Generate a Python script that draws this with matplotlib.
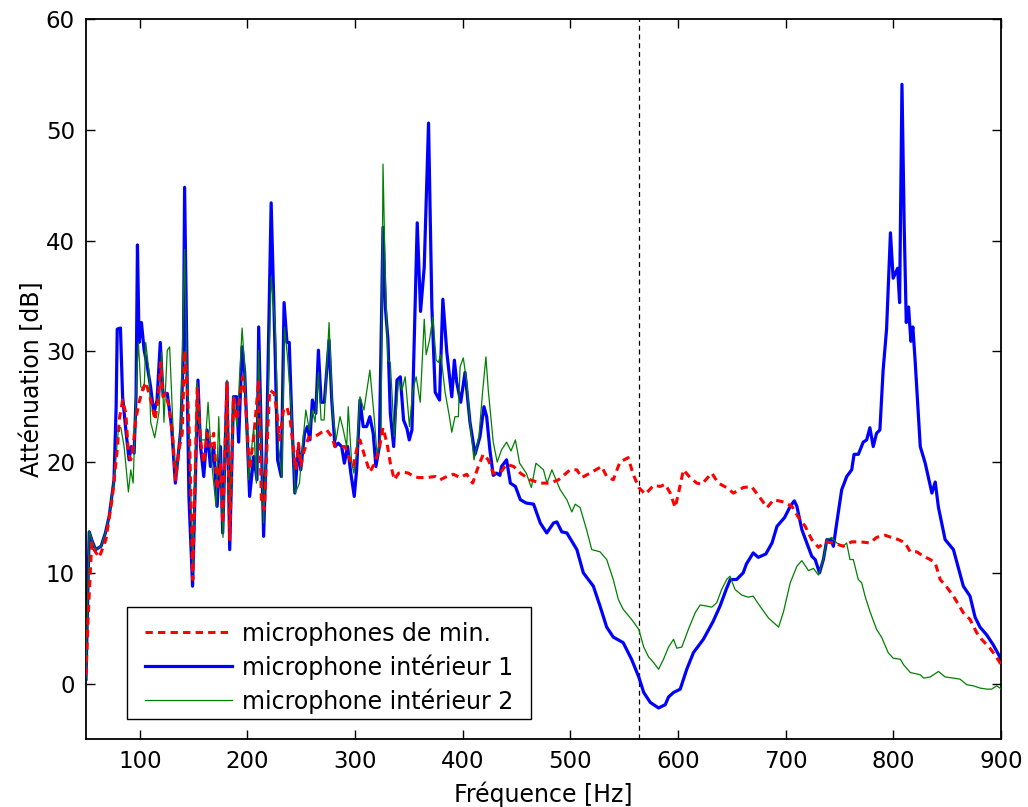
import numpy as np
import matplotlib
matplotlib.use('Agg')
import matplotlib.pyplot as plt
from matplotlib.patches import Rectangle

# microphones de min. (red dashed)
f_min = [50, 52, 55.3, 58, 62.3, 68.5, 74.6, 79.3, 80.8, 84, 87, 89.4, 91.6, 93.8, 96.2, 99.3,
         102.4, 105.5, 108.6, 111.6, 114.1, 117.2, 119.4, 121.5, 124, 127, 130.2, 133.3, 136.3,
         139.4, 141.6, 144, 146.2, 149.2, 153.3, 156.4, 159.4, 162.5, 165.6, 168.6, 171.8, 174.9,
         177, 181, 183.5, 187, 190, 195.5, 198, 202, 205.8, 210.4, 212.9, 215.7, 218.1, 220.6,
         224.9, 227.4, 229.8, 233.5, 236.6, 239.7, 242.8, 244.9, 247.4, 249.6, 252, 256.7, 262.8,
         269, 273.6, 278.3, 281.3, 286, 290.6, 295.2, 298.3, 302, 304.5, 309, 313.7, 318.3, 322.8,
         325.9, 329.6, 332.7, 336.4, 340.4, 345, 349.6, 354.3, 358.9, 366.6, 374.4, 379, 385.2,
         391.3, 397.5, 403.7, 409.2, 414.4, 419, 423.7, 428.3, 434.5, 440.7, 447.3, 453.5, 462.7,
         472, 481.2, 488.9, 499.7, 506, 510.5, 518.2, 529, 533.7, 539.8, 546, 553.7, 558.3, 563.5,
         569.6, 577.3, 583.5, 588.1, 592.7, 597.3, 600.4, 605, 611.2, 617.4, 622, 631.3, 637.4,
         645.1, 651.4, 660.5, 668.2, 676, 682.7, 688.8, 698, 705.8, 711.9, 718.1, 724.2, 730.4,
         736.6, 744.3, 753.5, 761.3, 769, 778.3, 784.4, 792.1, 798.2, 804.8, 811, 815.6, 821.8,
         828, 834.3, 838.9, 843.5, 849.7, 855.8, 865, 871.2, 877.4, 882, 889.7, 894.3, 899, 900]
v_min = [0.8, 6, 12.7, 12.0, 11.4, 13.0, 16.9, 21.4, 23.8, 25.6, 24.4, 20.8, 20.2, 21.4, 23.8, 25.4,
         26.5, 27.2, 26.2, 25.0, 23.8, 25.9, 29.0, 25.9, 26.2, 25.0, 22.6, 18.4, 21.1,
         22.6, 30.1, 26.8, 22.0, 9.4, 26.8, 22.0, 19.9, 22.6, 21.4, 22.6, 17.5, 19.9,
         14.5, 27.2, 13.0, 25.9, 23.8, 27.7, 25.6, 19.3, 22.3, 27.4, 16.6, 15.7, 21.4, 26.5,
         26.2, 24.4, 22.0, 24.7, 25.0, 23.8, 21.1, 19.3, 21.7, 19.6, 20.8, 22.2, 22.3,
         22.7, 22.9, 22.3, 21.4, 21.4, 21.4, 20.2, 19.6, 21.4, 22.0, 20.5, 19.1, 19.9, 21.4,
         23.1, 21.7, 19.9, 18.4, 19.0, 19.1, 19.0, 18.7, 18.6, 18.6, 18.7, 18.4, 18.7,
         18.9, 18.6, 18.9, 18.1, 19.6, 20.7, 20.2, 19.0, 19.0, 19.8, 19.6, 19.0, 18.4,
         18.1, 18.1, 18.4, 19.3, 19.3, 18.6, 19.0, 19.6, 18.7, 18.4, 20.0, 20.4, 18.9, 17.7,
         17.1, 17.9, 17.8, 18.0, 17.2, 15.9, 17.2, 19.3, 18.6, 18.1, 18.0, 19.0, 18.1,
         17.7, 17.2, 17.7, 17.8, 16.8, 15.9, 16.6, 16.4, 16.0, 15.0, 14.2, 13.0, 12.3,
         12.8, 12.7, 12.4, 12.8, 12.8, 12.7, 13.2, 13.4, 13.2, 13.0, 12.7, 11.9, 11.9,
         11.5, 11.2, 10.9, 9.4, 8.7, 7.9, 6.4, 5.8, 4.6, 4.0, 3.2, 2.6, 1.9, 1.6]

# microphone intérieur 1 (blue)
f_int1 = [50, 51.6, 53, 56, 59, 64, 68, 71.5, 76, 78, 79, 82, 84, 87, 90, 92, 94.7, 96.5, 97.8,
          99.3, 101.5, 104, 107, 110, 113, 116, 119, 121.5, 125.5, 129.5, 133, 138, 140.5, 141.6,
          144, 145.6, 149, 151.5, 154, 156.4, 159.4, 162.5, 165.6, 168.6, 171.8, 174.9, 177, 181,
          183.5, 187, 190, 191.8, 195, 197.4, 202, 205.8, 208.8, 210.4, 215, 218, 222, 225.8, 228,
          231.4, 234, 236.7, 238.8, 241, 244, 247.4, 249.5, 253, 255.7, 258, 260.3, 263.5, 265.9,
          268.4, 271.4, 275.8, 278.3, 281.3, 284.4, 287.5, 290, 293, 296, 299.2, 301.4, 304.5,
          307.5, 310.7, 313.7, 316.8, 319.3, 322.5, 325.9, 328.1, 330.5, 332.7, 335.8, 338.9, 342,
          345, 348.2, 350.3, 352.8, 357.7, 360.8, 364.2, 368.2, 371.3, 374.4, 378.4, 381.5, 385.2,
          389.8, 392.2, 394.4, 398.1, 402.1, 406.7, 411.4, 416, 419.7, 422.2, 425.2, 428.3,
          431.4, 434.5, 436, 440.7, 444.2, 448.9, 453.5, 459, 465.8, 472, 478, 484.3, 487.4, 492,
          496.7, 506, 512, 521.3, 527.5, 533.7, 539.8, 549, 556.8, 563.5, 568.1, 574.2, 581.9, 588.1,
          591.2, 595.8, 602, 608.1, 614.3, 623.5, 632.5, 639, 645.1, 648.5, 654.4, 660.5, 663.5, 669.8,
          674.5, 681.5, 687.3, 691.9, 699, 704.2, 708, 710.4, 715, 719.6, 724.2, 727.4, 731.4, 735,
          738.2, 741.9, 744.3, 747.4, 752, 756.7, 761.3, 763.5, 767.5, 772, 775.2, 778.2, 781.3,
          784.4, 787.5, 790.5, 793.7, 797.3, 799.8, 804, 805.8, 808, 810.1, 812, 814.1,
          816.3, 818.1, 820.2, 825, 829.6, 835.8, 838.9, 841.9, 848.1, 855.8, 865, 871.2,
          875.9, 880.5, 886.7, 892.8, 899, 900]
v_int1 = [0.4, 7.9, 13.7, 12.8, 12.1, 12.4, 13.6, 15.1, 18.4, 25, 32, 32.1, 25.9, 22.9, 20.2, 21.4, 20.8, 26, 39.6,
          30.8, 32.6, 30.1, 28.6, 26.8, 24.4, 25.6, 30.8, 26.2, 26.2, 23.2, 18.1, 22.9, 30, 44.8,
          27.4, 16.9, 8.8, 18, 27.4, 21.4, 18.7, 22.9, 19.6, 21.4, 16.0, 21.4, 13.6, 27.2,
          12.1, 25.9, 25.9, 21.8, 30.4, 28.1, 16.9, 20.5, 18.4, 32.2, 13.3, 22.9, 43.4, 29.5, 20.2,
          18.7, 34.4, 30.8, 30.8, 24.4, 17.2, 21.4, 19.3, 22.6, 23.2, 22.0, 25.6, 24.4, 30.1,
          25.4, 25.4, 31.0, 25.6, 21.4, 21.7, 21.4, 19.9, 21.4, 19.0, 16.9, 19.3, 25.6,
          23.2, 23.2, 24.1, 22.6, 19.6, 21.4, 41.2, 34.0, 31.0, 24.4, 21.4, 27.4, 27.7,
          23.8, 23.0, 22.0, 22.9, 41.6, 33.6, 37.6, 50.6, 34.0, 26.3, 25.6, 34.7, 29.9,
          25.9, 29.2, 27.2, 25.4, 28.1, 23.6, 20.7, 22.3, 25.0, 24.1, 21.1, 18.8,
          19.0, 18.8, 19.6, 20.2, 18.1, 17.8, 16.6, 16.3, 16.2, 14.5, 13.6, 14.5, 14.6, 13.7,
          13.6, 12.1, 10.0, 8.8, 7.0, 5.1, 4.2, 3.7, 2.2, 0.6, -0.8, -1.7, -2.2, -1.9,
          -1.2, -0.8, -0.5, 1.3, 2.8, 4.0, 5.6, 7.0, 8.6, 9.4, 9.4, 10.0, 10.8, 11.8,
          11.4, 11.7, 12.7, 14.2, 15.0, 16.0, 16.5, 16.0, 13.9, 12.7, 11.5, 11.2, 10.0, 11.2,
          13.0, 13.0, 12.4, 14.5, 17.5, 18.7, 19.3, 20.7, 20.7, 21.8, 22.0, 23.1, 21.4,
          22.6, 22.9, 28.3, 32, 40.7, 36.6, 37.5, 34.4, 54.1, 41.2, 32.6, 34.0,
          30.9, 32.2, 29.2, 21.4, 19.9, 17.2, 18.2, 15.9, 13.0, 12.1, 8.8, 7.9,
          6.0, 5.1, 4.4, 3.5, 2.4, 2.0]

# microphone intérieur 2 (green)
f_int2 = [50, 51.6, 53, 56, 59, 64, 68, 71.5, 76, 80.2, 82.4, 85.4, 89.4, 91.6, 93.8, 96.9, 98.7,
          100.9, 104, 105.5, 108.6, 110.1, 113.8, 117.8, 120.3, 122.4, 125.5, 127.7, 130.8, 133.3,
          137.9, 141.6, 144, 146.2, 149.2, 153.3, 156.4, 161, 163.4, 167.1, 170.8, 173.3, 177.3,
          181, 183.5, 187, 190.3, 195, 197.4, 201.1, 205.8, 208.3, 210.4, 215, 218.7, 222.1, 225.8,
          228.9, 232, 234.4, 237.2, 241, 244.3, 248.3, 250.5, 254.2, 257.5, 260.3, 262.8, 265.9,
          268.4, 271.2, 275.8, 279.1, 282.3, 286, 289, 292.2, 293.6, 296.8, 298.9, 301.4, 304.5,
          308.2, 313.7, 317.4, 320.5, 324.1, 325.9, 328.1, 330.5, 332.7, 336.4, 340.4, 343.5, 346.5,
          350.5, 353.6, 356.7, 360.5, 364.2, 366, 369.1, 372.2, 375.3, 377.4, 379.6, 383.6, 387.6,
          389.8, 392.8, 395.9, 397.5, 400.5, 403.7, 406.7, 410.4, 415, 418.4, 421.5, 423.7, 428.3,
          432, 436, 440.7, 444.8, 448.9, 452.8, 459, 463.7, 468, 475, 478.2, 482.8, 490.5, 496.7,
          501.3, 504.4, 509, 515, 519.8, 527.5, 533.7, 539.8, 544.5, 549.1, 556.8, 563.5, 568.1,
          572.7, 577.3, 581.9, 586.5, 591.2, 595.8, 598.8, 603.5, 609.6, 615.9, 620.5, 626.7, 631.3,
          635.9, 640.5, 645.2, 648.2, 652.9, 659.1, 665.2, 669.8, 676, 684.2, 693.4, 698, 704.2,
          710.4, 715, 721.2, 725.8, 730.4, 735, 738.2, 742.8, 747.4, 753.5, 756.6, 759.7, 762.8,
          767.4, 770.6, 773.7, 778.3, 784.4, 789, 795.2, 799.8, 806.5, 809.5, 815.8, 825, 828.1,
          834.3, 841.9, 848.1, 855.8, 862, 868.2, 874.4, 880.5, 886.7, 891.3, 895.9, 899, 900]
v_int2 = [0.5, 8, 13.8, 12.8, 12.1, 12.4, 13.6, 15.1, 18.4, 23.1, 23.1, 21.4, 17.3, 19.3, 18.1, 27.4, 30.8,
          26.8, 26.5, 30.8, 28.1, 23.6, 22.2, 24.5, 29.9, 23.6, 30.1, 30.4, 23.2, 18.7,
          22.9, 39.2, 27.4, 22.0, 10.0, 27.2, 22.0, 22.0, 25.4, 19.6, 16.0, 24.1, 13.2,
          27.4, 13.9, 25.9, 23.2, 32.1, 28.6, 18.4, 23.2, 18.1, 30.1, 14.5, 24.4, 36.7, 32.2,
          21.4, 18.6, 32.2, 29.5, 24.4, 17.2, 18.1, 20.8, 24.7, 22.9, 24.7, 23.6, 28.1,
          23.8, 23.8, 32.6, 24.4, 22.0, 24.1, 22.9, 21.4, 25.0, 19.9, 19.0, 20.8, 25.9,
          24.7, 28.3, 24.4, 20.5, 22.6, 46.9, 36.5, 29.2, 29.0, 22.3, 27.4, 26.5, 27.7, 23.2,
          26.5, 27.7, 25.4, 32.9, 29.7, 31.0, 33.1, 29.2, 29.0, 29.7, 26.3, 24.1, 22.7,
          24.1, 24.1, 28.6, 29.4, 27.2, 23.6, 20.2, 22.3, 26.3, 29.5, 26.5, 21.8, 20.0,
          21.1, 21.8, 21.0, 22.0, 19.9, 19.0, 17.7, 19.9, 19.3, 18.1, 19.3, 17.5, 16.6,
          15.5, 16.2, 15.9, 13.9, 12.1, 11.9, 11.2, 9.4, 7.6, 6.7, 5.8, 4.9, 3.3,
          2.4, 1.9, 1.3, 2.2, 3.3, 4.0, 3.2, 3.3, 4.9, 6.4, 7.1, 7.0, 6.9,
          7.3, 8.5, 9.4, 9.7, 8.5, 8.0, 7.8, 7.9, 7.0, 5.9, 5.1, 6.5, 9.1,
          10.6, 11.1, 10.2, 10.4, 9.8, 11.2, 13.0, 13.2, 12.7, 12.4, 12.7, 11.2, 11.2,
          9.4, 9.1, 7.9, 6.5, 4.9, 4.2, 2.8, 2.3, 2.2, 1.7, 1.0, 0.8, 0.5,
          0.6, 1.1, 0.6, 0.5, 0.4, -0.1, -0.2, -0.4, -0.5, -0.5, -0.2, -0.4, -0.5]

f_cut = 564

plt.rcParams['font.family'] = 'DejaVu Sans'
plt.rcParams['font.size'] = 16.5

fig = plt.figure(figsize=(10.28, 8.07), dpi=100)
ax = fig.add_axes([86 / 1028, 68 / 807, 915 / 1028, 720 / 807])

ax.plot(f_min, v_min, color='#ff0000', lw=2.2, dashes=(2.4, 1.7), zorder=4,
        label='microphones de min.')
ax.plot(f_int1, v_int1, color='#0000ff', lw=2.3, zorder=2,
        label='microphone intérieur 1')
ax.plot(f_int2, v_int2, color='#008000', lw=0.9, zorder=3,
        label='microphone intérieur 2')
ax.axvline(f_cut, color='black', lw=0.9, ls=(0, (4, 3)), zorder=1)

ax.set_xlim(50, 900)
ax.set_ylim(-5, 60)
ax.set_xticks(np.arange(100, 901, 100))
ax.set_yticks(np.arange(0, 61, 10))
ax.tick_params(direction='in', length=6.5, width=1, top=True, right=True, pad=8)
for s in ax.spines.values():
    s.set_linewidth(1.3)

ax.set_xlabel('Fréquence [Hz]', fontsize=17, labelpad=6)
ax.set_ylabel('Atténuation [dB]', fontsize=17, labelpad=1)

# legend frame drawn by hand: the original has wider side margins than top/bottom
box = Rectangle((0.0448, 0.0278), 0.4415, 0.1556, transform=ax.transAxes,
                facecolor='white', edgecolor='black', lw=1.0, zorder=4.5)
ax.add_patch(box)
leg = ax.legend(loc='upper left', bbox_to_anchor=(0.0645, 0.163), borderaxespad=0,
                frameon=False, handlelength=3.7, handletextpad=0.4, borderpad=0,
                labelspacing=0.36, fontsize=17)
leg.set_zorder(5)

fig.savefig('out.png', dpi=100)
